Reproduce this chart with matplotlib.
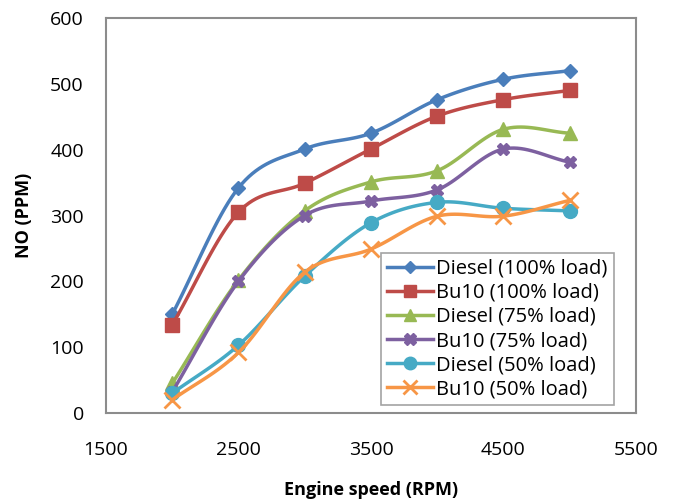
import numpy as np
import matplotlib
matplotlib.use("Agg")
import matplotlib.pyplot as plt

plt.rcParams['font.family'] = ['Open Sans', 'DejaVu Sans']

rpm = [2000, 2500, 3000, 3500, 4000, 4500, 5000]

diesel_100 = [150, 342, 401, 425, 476, 507, 520]
bu10_100 = [134, 305, 349, 401, 451, 476, 490]
diesel_75 = [45, 202, 307, 351, 368, 431, 425]
bu10_75 = [32, 200, 300, 322, 339, 401, 381]
diesel_50 = [30, 103, 208, 289, 320, 311, 307]
bu10_50 = [20, 92, 214, 249, 299, 299, 323]

labels = ['Diesel (100% load)', 'Bu10 (100% load)', 'Diesel (75% load)',
          'Bu10 (75% load)', 'Diesel (50% load)', 'Bu10 (50% load)']


def smooth(x, y, n=20):
    # Excel-style smoothed line: Catmull-Rom through the points
    x = np.asarray(x, float)
    y = np.asarray(y, float)
    px = np.concatenate([[2 * x[0] - x[1]], x, [2 * x[-1] - x[-2]]])
    py = np.concatenate([[2 * y[0] - y[1]], y, [2 * y[-1] - y[-2]]])
    xs, ys = [], []
    t = np.linspace(0, 1, n)
    for i in range(1, len(px) - 2):
        for p, out in ((px, xs), (py, ys)):
            p0, p1, p2, p3 = p[i - 1], p[i], p[i + 1], p[i + 2]
            out.extend(0.5 * ((2 * p1) + (-p0 + p2) * t
                              + (2 * p0 - 5 * p1 + 4 * p2 - p3) * t ** 2
                              + (-p0 + 3 * p1 - 3 * p2 + p3) * t ** 3))
    return xs, ys


series = [diesel_100, bu10_100, diesel_75, bu10_75, diesel_50, bu10_50]
colors = ['#4A7EBB', '#BE4B48', '#98B954', '#7D60A0', '#46AAC5', '#F79646']
markers = ['D', 's', '^', 'X', 'o', 'x']
msizes = [7, 10, 10, 9, 10, 11]

fig = plt.figure(figsize=(6.76, 5.01), dpi=100)
ax = fig.add_axes([0.1568, 0.1756, 0.784, 0.7885])

for vals, c, m, ms, lab in zip(series, colors, markers, msizes, labels):
    sx, sy = smooth(rpm, vals)
    ax.plot(sx, sy, color=c, lw=2.5, solid_capstyle='round')
    mew = 2 if m == 'x' else 1
    ax.plot(rpm, vals, ls='none', marker=m, color=c, ms=ms, mew=mew)
    ax.plot([], [], color=c, lw=2.5, marker=m, ms=ms * 0.9, mew=mew, label=lab)

ax.set_xlim(1500, 5500)
ax.set_ylim(0, 600)
ax.set_xticks([1500, 2500, 3500, 4500, 5500])
ax.set_yticks(range(0, 601, 100))
ax.tick_params(length=0, labelsize=14, pad=16)
ax.tick_params(axis='x', pad=20)
for s in ax.spines.values():
    s.set_color('#8c8c8c')
    s.set_linewidth(1.5)

ax.set_xlabel('Engine speed (RPM)', fontsize=13, fontweight='bold', labelpad=16)
ax.set_ylabel('NO (PPM)', fontsize=13, fontweight='bold', labelpad=12)

leg = ax.legend(loc='lower right', bbox_to_anchor=(0.958, 0.02), borderaxespad=0,
                fontsize=14.5, frameon=True, fancybox=False, handlelength=2.3,
                handletextpad=0.15, borderpad=0.3, labelspacing=0.2)
leg.get_frame().set_edgecolor('#8c8c8c')
leg.get_frame().set_linewidth(1.2)

fig.savefig('out.png', dpi=100)
